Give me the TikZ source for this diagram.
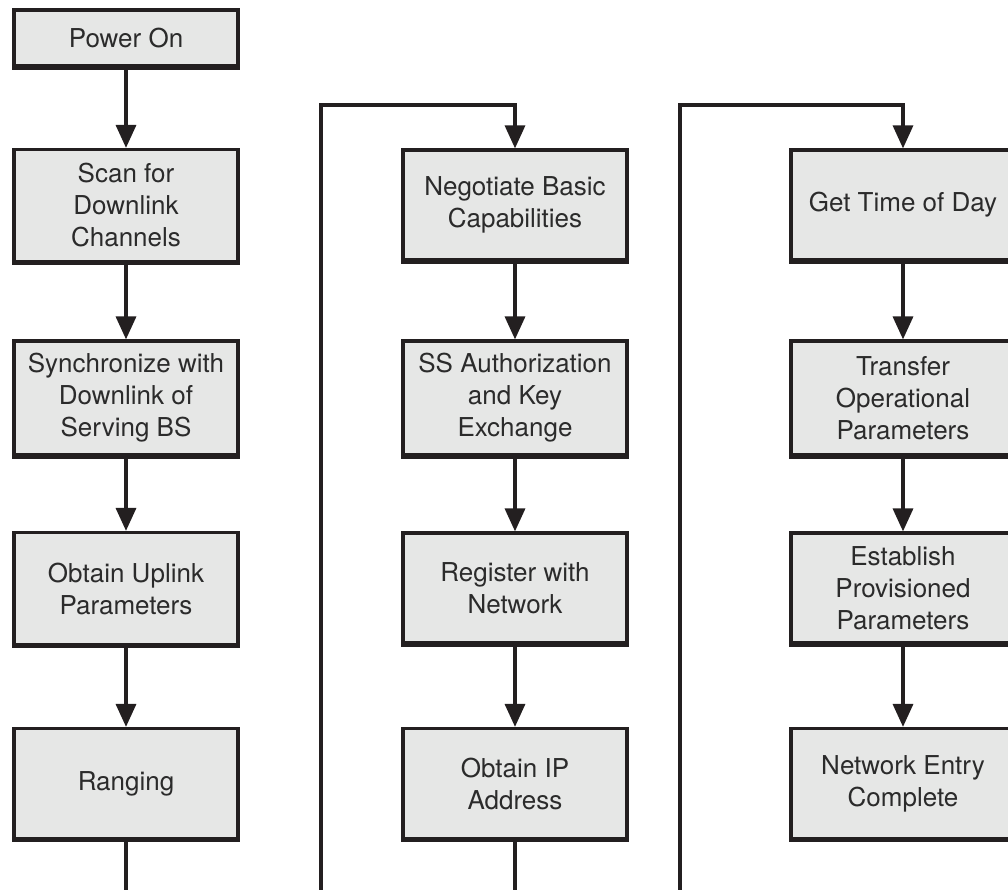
\documentclass[tikz,border=0pt]{standalone}
\usepackage{fontspec}
\setmainfont{TeX Gyre Heros}
\usetikzlibrary{arrows.meta}
\definecolor{boxfill}{HTML}{E6E7E6}
\definecolor{ink}{HTML}{231F20}
\definecolor{txt}{HTML}{2B2B2B}
\begin{document}
\begin{tikzpicture}[x=0.5pt,y=-0.5pt,
  stepbox/.style={draw=ink, fill=boxfill, line width=1.6pt,
    minimum width=112pt, minimum height=56pt, inner sep=0pt,
    align=center, text=txt, font=\fontsize{13}{16}\selectfont},
  tip/.style={-{Triangle[length=11.5pt,width=10pt]}},
  flow/.style={draw=ink, line width=1.7pt, tip},
  wrap/.style={draw=ink, line width=1.6pt, line join=miter, tip},
  baseline edge/.style={draw=ink, line width=2.2pt}]
\useasboundingbox (0,0) rectangle (1008,890);

% first column: initial ranging
\node[stepbox, minimum height=28pt] (power) at (126,38) {Power On};
\node[stepbox] (scan) at (126,205.5) {Scan for\\Downlink\\Channels};
\node[stepbox, minimum height=57pt] (sync) at (126,398) {Synchronize with\\Downlink of\\Serving BS};
\node[stepbox] (uplink) at (126,588.5) {Obtain Uplink\\Parameters};
\node[stepbox, minimum height=55pt] (ranging) at (126,783.5) {Ranging};

% second column: capabilities, security, registration
\node[stepbox, minimum height=55pt] (negotiate) at (515,205) {Negotiate Basic\\Capabilities};
\node[stepbox, minimum height=57pt] (auth) at (515,398) {SS Authorization\\and Key\\Exchange};
\node[stepbox, minimum height=55pt] (register) at (515,588) {Register with\\Network};
\node[stepbox, minimum height=55pt] (ipaddr) at (515,783.5) {Obtain IP\\Address};

% third column: time, parameters, completion
\node[stepbox, minimum height=55pt] (tod) at (903,205) {Get Time of Day};
\node[stepbox, minimum height=57pt] (transfer) at (903,398) {Transfer\\Operational\\Parameters};
\node[stepbox, minimum height=55pt] (establish) at (903,588) {Establish\\Provisioned\\Parameters};
\node[stepbox, minimum height=55pt] (complete) at (903,783.5) {Network Entry\\Complete};

% slightly heavier lower edge on every box
\foreach \n in {power,scan,sync,uplink,ranging,negotiate,auth,register,ipaddr,tod,transfer,establish,complete}
  \draw[baseline edge] (\n.south west) -- (\n.south east);

% straight steps within each column
\draw[flow] (power) -- (scan);
\draw[flow] (scan) -- (sync);
\draw[flow] (sync) -- (uplink);
\draw[flow] (uplink) -- (ranging);
\draw[flow] (negotiate) -- (auth);
\draw[flow] (auth) -- (register);
\draw[flow] (register) -- (ipaddr);
\draw[flow] (tod) -- (transfer);
\draw[flow] (transfer) -- (establish);
\draw[flow] (establish) -- (complete);

% column-to-column wrap-around connectors
\coordinate (dropA) at (126,940);
\coordinate (riseA) at (321,105);
\coordinate (dropB) at (515,940);
\coordinate (riseB) at (680,105);
\draw[wrap] (ranging.south) -- (dropA) -| (riseA) -| (negotiate.north);
\draw[wrap] (ipaddr.south) -- (dropB) -| (riseB) -| (tod.north);
\end{tikzpicture}
\end{document}
